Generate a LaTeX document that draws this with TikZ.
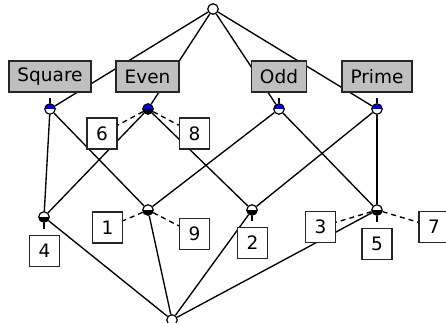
\documentclass[tikz,border=0pt]{standalone}
\usepackage{fontspec}
\setmainfont{DejaVu Sans}
\usetikzlibrary{backgrounds}
\tikzset{
  x=1pt, y=-1pt,
  concept/.style 2 args={circle, draw=black, line width=1.2pt, minimum size=10.5pt, inner sep=0pt, fill=white,
    path picture={
      \fill[#1] (path picture bounding box.north west) rectangle (path picture bounding box.east);
      \fill[#2] (path picture bounding box.west) rectangle (path picture bounding box.south east);
    }},
  attrbox/.style={draw=black!85, line width=1.3pt, fill=black!25, minimum height=31pt, inner xsep=8.5pt, inner ysep=0pt,
    font=\fontsize{18.5}{20}\selectfont},
  objbox/.style={draw=black!85, line width=1.3pt, fill=white, minimum height=31pt, minimum width=30pt, inner sep=0pt,
    font=\fontsize{18.5}{20}\selectfont},
  edge/.style={line width=1.35pt, black},
  leader/.style={line width=1.35pt, black, dash pattern=on 5pt off 4pt},
  stub/.style={line width=1.35pt, black}
}
\begin{document}
\begin{tikzpicture}
\useasboundingbox (0,0) rectangle (446,323);

% lattice concepts
\node[concept={white}{white}] (top) at (213,9) {};
\node[concept={blue}{white}] (sq) at (50,109) {};
\node[concept={blue}{black}] (ev) at (148,109) {};
\node[concept={blue}{white}] (od) at (279,109) {};
\node[concept={blue}{white}] (pr) at (377,109) {};
\node[concept={white}{black}] (c4) at (44,217) {};
\node[concept={white}{black}] (c19) at (148,210) {};
\node[concept={white}{black}] (c2) at (252,210) {};
\node[concept={white}{black}] (c5) at (377,210) {};
\node[concept={white}{white}] (bot) at (172,320) {};

% attribute labels
\node[attrbox] (lsq) at (50,76.5) {Square};
\node[attrbox] (lev) at (147.5,76.5) {Even};
\node[attrbox] (lod) at (279,76.5) {Odd};
\node[attrbox] (lpr) at (377,76.5) {Prime};

% object labels
\node[objbox] (o6) at (102,133.5) {6};
\node[objbox] (o8) at (194.5,133.5) {8};
\node[objbox] (o4) at (44.5,251) {4};
\node[objbox] (o1) at (107.5,227.5) {1};
\node[objbox] (o9) at (194.5,234) {9};
\node[objbox] (o2) at (252.5,243) {2};
\node[objbox] (o3) at (320.5,227) {3};
\node[objbox] (o5) at (377,244) {5};
\node[objbox] (o7) at (434,227) {7};

% stub ends
\coordinate (ssq) at (50,98);
\coordinate (sod) at (279,98);
\coordinate (spr) at (377,98);
\coordinate (s4) at (44,229);
\coordinate (s2) at (252,221);
\coordinate (s5) at (377,222);

\begin{scope}[on background layer]
  \draw[edge] (top) -- (sq);
  \draw[edge] (top) -- (ev);
  \draw[edge] (top) -- (od);
  \draw[edge] (top) -- (pr);
  \draw[edge] (sq) -- (c4);
  \draw[edge] (sq) -- (c19);
  \draw[edge] (ev) -- (c4);
  \draw[edge] (ev) -- (c2);
  \draw[edge] (od) -- (c19);
  \draw[edge] (od) -- (c5);
  \draw[edge] (pr) -- (c2);
  \draw[edge] (pr) -- (c5);
  \draw[edge] (c4) -- (bot);
  \draw[edge] (c19) -- (bot);
  \draw[edge] (c2) -- (bot);
  \draw[edge] (c5) -- (bot);
\end{scope}

% label connectors
\draw[stub] (sq) -- (ssq);
\draw[stub] (od) -- (sod);
\draw[stub] (pr) -- (spr);
\draw[stub] (c4) -- (s4);
\draw[stub] (c2) -- (s2);
\draw[stub] (c5) -- (s5);
\draw[leader] (ev) -- (o6);
\draw[leader] (ev) -- (o8);
\draw[leader] (c19) -- (o1);
\draw[leader] (c19) -- (o9);
\draw[leader] (c5) -- (o3);
\draw[leader] (c5) -- (o7);
\end{tikzpicture}
\end{document}
